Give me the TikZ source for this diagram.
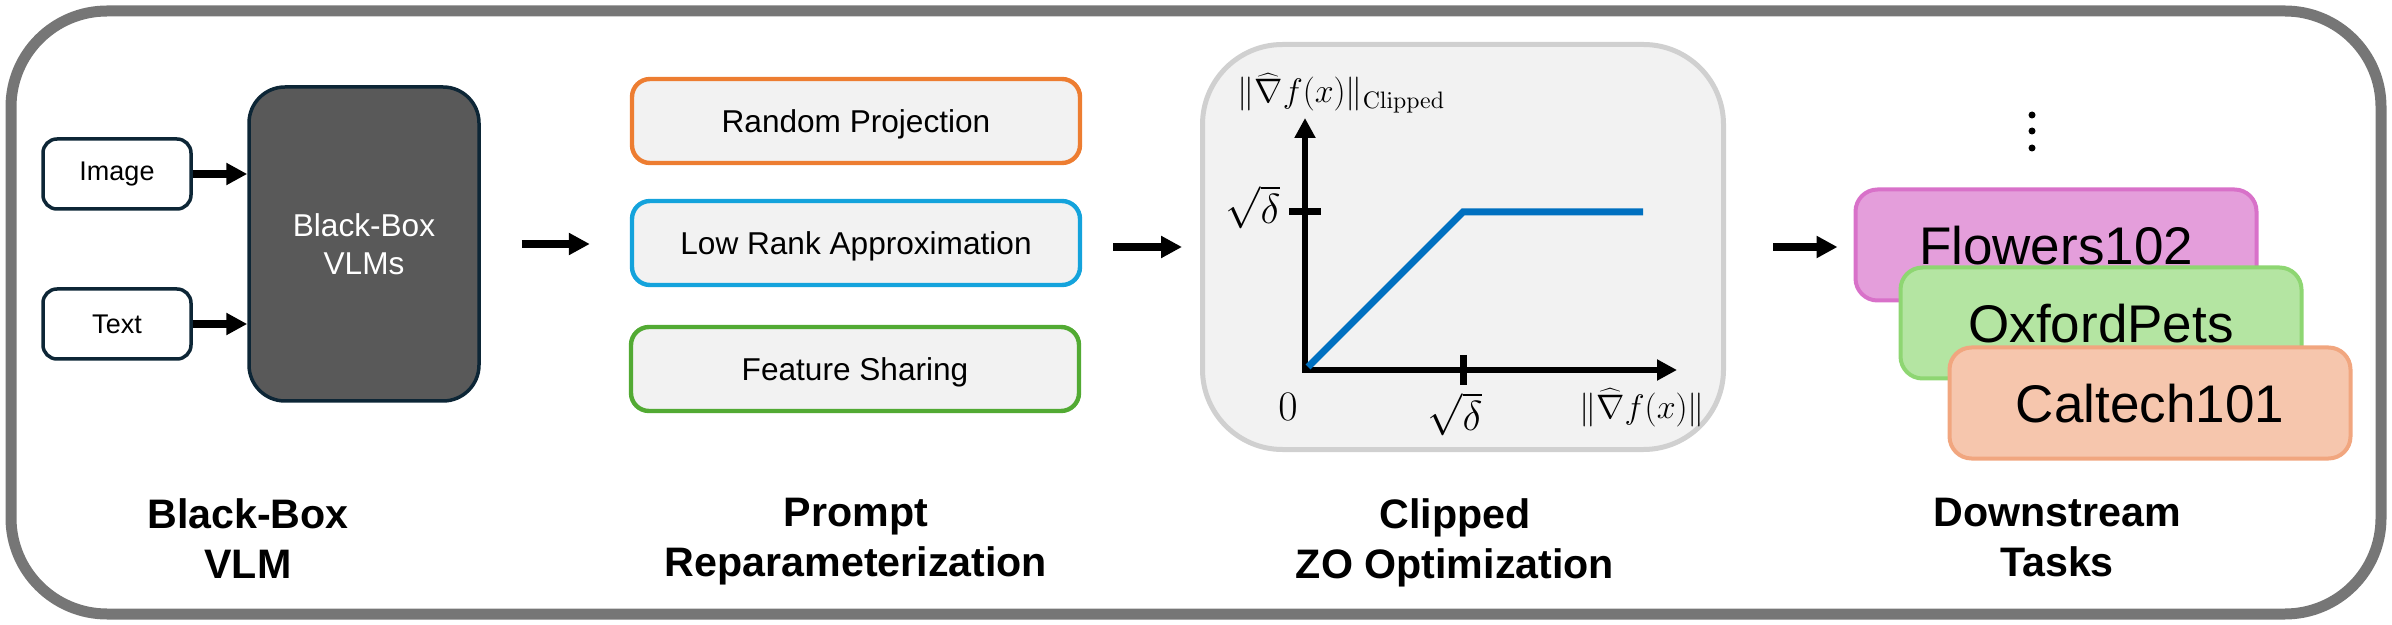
\documentclass[tikz,border=0pt]{standalone}
\usepackage{fix-cm}
\usepackage[no-math]{fontspec}
\setmainfont{Liberation Sans}
\usetikzlibrary{arrows.meta,positioning,calc}

\definecolor{framegray}{HTML}{767676}
\definecolor{navy}{HTML}{0D2636}
\definecolor{vlmgray}{HTML}{595959}
\definecolor{boxfill}{HTML}{F2F2F2}
\definecolor{rporange}{HTML}{ED7D31}
\definecolor{lrblue}{HTML}{14A3DC}
\definecolor{fsgreen}{HTML}{52AA33}
\definecolor{panelborder}{HTML}{D0D0D0}
\definecolor{curveblue}{HTML}{0070C0}
\definecolor{flowerfill}{HTML}{E49EDB}
\definecolor{flowerdraw}{HTML}{D871C9}
\definecolor{petsfill}{HTML}{B4E5A2}
\definecolor{petsdraw}{HTML}{8ED672}
\definecolor{caltechfill}{HTML}{F6C6AD}
\definecolor{caltechdraw}{HTML}{F1A67F}

\begin{document}
\begin{tikzpicture}[x=0.5pt, y=-0.5pt,
    inbox/.style={rectangle, rounded corners=7pt, draw=navy, line width=1.75pt, fill=white, minimum width=74pt, minimum height=35pt, font=\fontsize{13.5}{16}\selectfont},
    vlmbox/.style={rectangle, rounded corners=18pt, draw=navy, line width=1.75pt, fill=vlmgray, text=white, minimum width=115pt, minimum height=157pt, align=center, font=\fontsize{15.8}{19}\selectfont},
    promptbox/.style={rectangle, rounded corners=9pt, line width=2.2pt, fill=boxfill, minimum width=224pt, minimum height=42pt, text depth=0pt, font=\fontsize{15.8}{19}\selectfont},
    taskbox/.style={rectangle, rounded corners=11pt, line width=2pt, minimum width=200.5pt, minimum height=55.5pt, text depth=0pt, font=\fontsize{26.5}{30}\selectfont},
    stagelabel/.style={anchor=north, inner sep=0pt, align=center, font=\fontsize{20.6}{25}\selectfont\bfseries},
    arrow/.style={-{Triangle[length=10.5pt, width=10.5pt]}, line width=3.75pt},
    axisline/.style={{Triangle[length=10pt, width=10pt]}-{Triangle[length=10pt, width=10pt]}, line width=3.2pt, line join=miter},
    mathlabel/.style={inner sep=0pt, font=\fontsize{17}{20}\selectfont},
    ticklabel/.style={inner sep=0pt, font=\fontsize{21}{24}\selectfont}
]
    \useasboundingbox (0,0) rectangle (2392,625);

    % Outer frame
    \draw[framegray, line width=5.5pt, rounded corners=48pt] (11,11) rectangle (2381,614);

    % Inputs
    \node[inbox] (image) at (117,174) {Image};
    \node[inbox] (text) at (117,324) {Text};

    % Black-box model
    \node[vlmbox] (vlm) at (364,244) {Black-Box\\VLMs};

    % Prompt reparameterization
    \node[promptbox, draw=rporange] (randproj) at (856,121) {Random Projection};
    \node[promptbox, draw=lrblue] (lowrank) at (856,243) {Low Rank Approximation};
    \node[promptbox, draw=fsgreen] (featshare) at (855,369) {Feature Sharing};

    % Clipped ZO panel
    \node[rectangle, rounded corners=40pt, draw=panelborder, line width=2.5pt, fill=boxfill, minimum width=260.5pt, minimum height=202.5pt] (panel) at (1463,247) {};

    \coordinate (origin) at (1305,370);
    \coordinate (ytop) at (1305,118);
    \coordinate (xend) at (1677,370);
    \coordinate (ytick) at (1305,212);
    \coordinate (xtick) at (1463,370);

    \draw[axisline] (ytop) -- (origin) -- (xend);
    \draw[line width=3.5pt] (ytick) ++(-16,0) -- ++(32,0);
    \draw[line width=3.5pt] (xtick) ++(0,-15) -- ++(0,30);
    \draw[curveblue, line width=3.5pt, line join=miter] ($(origin)+(3,-3)$) -- (xtick |- ytick) -- (1643,212);

    \node[mathlabel, anchor=west] (ylab) at (1237,93) {$\|\widehat{\nabla} f(x)\|_{\mathrm{Clipped}}$};
    \node[mathlabel] (xlab) at (1642,408) {$\|\widehat{\nabla} f(x)\|$};
    \node[ticklabel] (zero) at (1288,407) {$0$};
    \node[ticklabel] (xticklab) at (1455,414) {$\sqrt{\delta}$};
    \node[ticklabel] (yticklab) at (1253,207) {$\sqrt{\delta}$};

    % Downstream tasks
    \foreach \y in {115,131,148}
        \fill (2032,\y) circle (1.75pt);
    \node[taskbox, fill=flowerfill, draw=flowerdraw] (flowers) at (2056,245) {Flowers102};
    \node[taskbox, fill=petsfill, draw=petsdraw] (pets) at (2101,323) {OxfordPets};
    \node[taskbox, fill=caltechfill, draw=caltechdraw] (caltech) at (2150,403) {Caltech101};

    % Arrows
    \draw[arrow] (image) -- (image -| vlm.west);
    \draw[arrow] (text) -- (text -| vlm.west);
    \draw[arrow, shorten <=20.5pt, shorten >=20pt] (vlm.east) -- (vlm.east -| lowrank.west);
    \draw[arrow, shorten <=15.5pt, shorten >=9pt] (lowrank.east |- panel.west) -- (panel.west);
    \draw[arrow, shorten <=23.5pt, shorten >=8pt] (panel.east) -- (panel.east -| flowers.west);

    % Stage labels
    \node[stagelabel] (lblvlm) at (248,498) {Black-Box\\VLM};
    \node[stagelabel] (lblprompt) at (856,498) {Prompt\\Reparameterization};
    \node[stagelabel] (lblzo) at (1455,498) {Clipped\\ZO Optimization};
    \node[stagelabel] (lbltask) at (2057,498) {Downstream\\Tasks};
\end{tikzpicture}
\end{document}
